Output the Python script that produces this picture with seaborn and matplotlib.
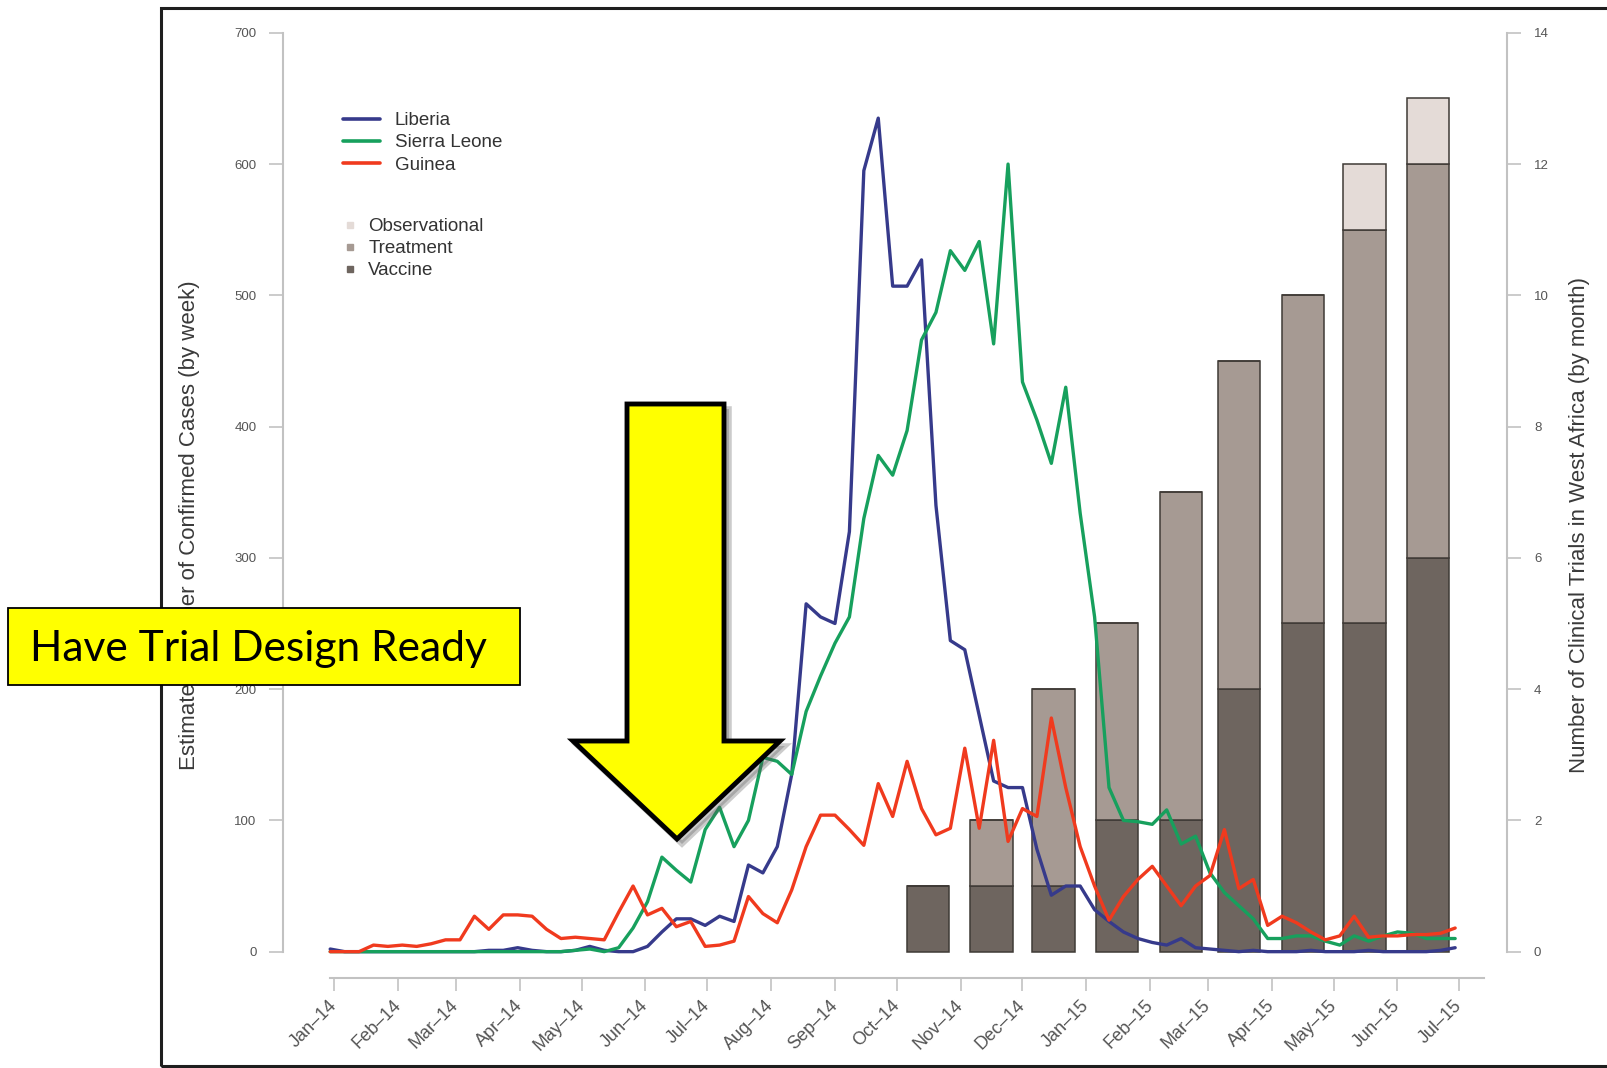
import numpy as np
import pandas as pd
import matplotlib
matplotlib.use('Agg')  # no display
import matplotlib.pyplot as plt
import matplotlib.dates as mdates
import seaborn as sns
from matplotlib.patches import Polygon, Rectangle
from matplotlib.lines import Line2D

# -------------------------------------------------------
# data
# -------------------------------------------------------

# weekly confirmed cases, first week starts 30 Dec 2013
first_week = "2013-12-30"
liberia = [2, 0, 0, 0, 0, 0, 0, 0, 0, 0,
           0, 1, 1, 3, 1, 0, 0, 1, 4, 1,
           0, 0, 4, 15, 25, 25, 20, 27, 23, 66,
           60, 80, 135, 265, 255, 250, 320, 595, 635, 507,
           507, 527, 340, 237, 230, 180, 130, 125, 125, 78,
           43, 50, 50, 32, 23, 15, 10, 7, 5, 10,
           3, 2, 1, 0, 1, 0, 0, 0, 1, 0,
           0, 0, 1, 0, 0, 0, 0, 1, 3]
sierra_leone = [0, 0, 0, 0, 0, 0, 0, 0, 0, 0,
                0, 0, 0, 0, 0, 0, 0, 1, 2, 0,
                3, 18, 38, 72, 62, 53, 93, 110, 80, 100,
                148, 145, 135, 183, 210, 235, 255, 330, 378, 363,
                397, 466, 487, 534, 519, 541, 463, 600, 434, 405,
                372, 430, 334, 255, 125, 100, 99, 97, 108, 82,
                88, 60, 45, 35, 25, 10, 10, 12, 12, 8,
                5, 12, 8, 12, 15, 14, 10, 10, 10]
guinea = [0, 0, 0, 5, 4, 5, 4, 6, 9, 9,
          27, 17, 28, 28, 27, 17, 10, 11, 10, 9,
          30, 50, 28, 33, 19, 23, 4, 5, 8, 42,
          29, 22, 47, 80, 104, 104, 93, 81, 128, 103,
          145, 109, 89, 94, 155, 94, 161, 84, 109, 103,
          178, 125, 80, 50, 24, 42, 55, 65, 50, 35,
          50, 58, 93, 48, 55, 20, 27, 22, 15, 9,
          12, 27, 11, 12, 12, 13, 13, 14, 18]

countries = ["Liberia", "Sierra Leone", "Guinea"]

# number of clinical trials per month (stacked bars)
trial_months = ["2014-10", "2014-11", "2014-12", "2015-01", "2015-02",
                "2015-03", "2015-04", "2015-05", "2015-06"]
vaccine = [1, 1, 1, 2, 2, 4, 5, 5, 6]
treatment = [0, 1, 3, 3, 5, 5, 5, 6, 6]
observational = [0, 0, 0, 0, 0, 0, 0, 1, 1]
trial_types = ["Observational", "Treatment", "Vaccine"]

# axis ranges
cases_max = 700
trials_max = 14
tick_first = "2014-01-01"
tick_last = "2015-07-01"

# -------------------------------------------------------
# style
# -------------------------------------------------------
line_colors = {"Liberia": "#363a8b", "Sierra Leone": "#17a05d", "Guinea": "#f03a1e"}
bar_colors = {"Observational": "#e4dbd7", "Treatment": "#a69a93", "Vaccine": "#6e655f"}
bar_edge = "#3f3a36"
axis_gray = "#c2c2c2"

W, H = 1608, 1068


def fx(px):
    return px / W


def fy(py):
    return 1 - py / H


sns.set_theme(style="white")
plt.rcParams["font.family"] = ["Liberation Sans", "DejaVu Sans"]

weeks = pd.date_range(first_week, periods=len(liberia), freq="7D")
df = pd.DataFrame({
    "week": np.tile(weeks.values, len(countries)),
    "cases": liberia + sierra_leone + guinea,
    "country": np.repeat(countries, len(weeks)),
})

fig = plt.figure(figsize=(W / 100, H / 100), dpi=100)
fig.patch.set_facecolor("white")

ax = fig.add_axes([fx(283), fy(978.3), fx(1507.5) - fx(283), (978.3 - 8) / H])
ax2 = ax.twinx()
ax.set_zorder(ax2.get_zorder() + 1)
ax.patch.set_visible(False)

# --- bars (right axis) ---
bar_x = pd.to_datetime([m + "-16" for m in trial_months])
bar_w = 20.5
ax2.bar(bar_x, vaccine, width=bar_w, color=bar_colors["Vaccine"],
        edgecolor=bar_edge, linewidth=1.1)
ax2.bar(bar_x, treatment, bottom=vaccine, width=bar_w, color=bar_colors["Treatment"],
        edgecolor=bar_edge, linewidth=1.1)
ax2.bar(bar_x, observational, bottom=np.add(vaccine, treatment), width=bar_w,
        color=bar_colors["Observational"], edgecolor=bar_edge, linewidth=1.1)

# --- lines (left axis) ---
sns.lineplot(data=df, x="week", y="cases", hue="country", hue_order=countries,
             palette=line_colors, linewidth=2.4, ax=ax, legend=False)

# --- scales ---
t0 = mdates.date2num(pd.Timestamp(tick_first))
ax.set_xlim(t0 - 24.9, t0 + 569.4)
ax.set_ylim(-20.3, 718.9)
ratio = cases_max / trials_max
ax2.set_ylim(-20.3 / ratio, 718.9 / ratio)

for s in ["top", "right"]:
    ax.spines[s].set_visible(False)
for s in ["top", "left", "bottom"]:
    ax2.spines[s].set_visible(False)
ax.spines["left"].set_bounds(0, cases_max)
ax.spines["bottom"].set_bounds(t0 - 2, t0 + 558)
ax2.spines["right"].set_bounds(0, trials_max)
for sp in [ax.spines["left"], ax.spines["bottom"], ax2.spines["right"]]:
    sp.set_color(axis_gray)
    sp.set_linewidth(1.5)

ax.set_yticks(range(0, cases_max + 1, 100))
ax2.set_yticks(range(0, trials_max + 1, 2))
months = pd.date_range(tick_first, tick_last, freq="MS")
ax.set_xticks(mdates.date2num(months))
ax.set_xticklabels([m.strftime("%b\u2013%y") for m in months])

ax.tick_params(axis="y", left=True, direction="out", length=10, width=1.2,
               color=axis_gray, labelsize=9.5, labelcolor="#555555", pad=9)
ax2.tick_params(axis="y", right=True, direction="out", length=10, width=1.2,
                color=axis_gray, labelsize=9.5, labelcolor="#555555", pad=9)
ax.tick_params(axis="x", bottom=True, direction="out", length=9.6, width=1.2,
               color=axis_gray, labelsize=13, labelcolor="#555555", pad=8)
for lab in ax.get_xticklabels():
    lab.set_rotation(45)
    lab.set_ha("right")
    lab.set_va("center")
    lab.set_rotation_mode("anchor")

ax.set_xlabel("")
ax.set_ylabel("")
ax2.set_ylabel("")

fig.text(fx(190), fy(525), "Estimated Number of Confirmed Cases (by week)",
         rotation=90, ha="center", va="center", fontsize=16, color="#3a3a3a")
fig.text(fx(1580), fy(525), "Number of Clinical Trials in West Africa (by month)",
         rotation=90, ha="center", va="center", fontsize=16, color="#3a3a3a")

# --- legends ---
line_handles = [Line2D([], [], color=line_colors[c], lw=2.6) for c in countries]
leg1 = ax.legend(line_handles, countries, loc="upper left",
                 bbox_to_anchor=(fx(343), fy(112)), bbox_transform=fig.transFigure,
                 frameon=False, borderpad=0, borderaxespad=0, fontsize=13.5,
                 handlelength=2.0, handletextpad=0.75, labelspacing=0.27,
                 labelcolor="#333333")
ax.add_artist(leg1)
box_handles = [Line2D([], [], ls="none", marker="s", ms=3.8,
                      mfc=bar_colors[k], mec=bar_colors[k]) for k in trial_types]
ax.legend(box_handles, trial_types, loc="upper left",
          bbox_to_anchor=(fx(343), fy(218)), bbox_transform=fig.transFigure,
          frameon=False, borderpad=0, borderaxespad=0, fontsize=13.5,
          handlelength=0.8, handletextpad=0.55, labelspacing=0.27,
          labelcolor="#333333")

# --- picture frame ---
fig.add_artist(Rectangle((fx(161), fy(1066)), (1700 - 161) / W, (1066 - 8) / H,
                         transform=fig.transFigure, fill=False,
                         edgecolor="#1e1e1e", linewidth=2.2, zorder=4))

# --- big yellow arrow ---
arrow_px = [(627, 404), (724, 404), (724, 741), (780, 741), (677, 839),
            (573, 741), (627, 741)]
shadow = Polygon([(fx(x + 5), fy(y + 5)) for x, y in arrow_px], closed=True,
                 transform=fig.transFigure, facecolor="#555555", edgecolor="#555555",
                 linewidth=4, alpha=0.3, zorder=5)
arrow = Polygon([(fx(x), fy(y)) for x, y in arrow_px], closed=True,
                transform=fig.transFigure, facecolor="#ffff00", edgecolor="black",
                linewidth=3.5, joinstyle="miter", zorder=6)
fig.add_artist(shadow)
fig.add_artist(arrow)

# --- yellow note box ---
fig.add_artist(Rectangle((fx(8), fy(685)), (519.6 - 8) / W, (685 - 608) / H,
                         transform=fig.transFigure, facecolor="#ffff00",
                         edgecolor="black", linewidth=1.3, zorder=7))
note = fig.text(fx(30.5), fy(661.5), "Have Trial Design Ready", ha="left",
                va="baseline", fontsize=30, color="black",
                family=["Lato", "DejaVu Sans"], zorder=8)
fig.canvas.draw()
w = note.get_window_extent().width
note.set_fontsize(30 * 457 / w)

fig.savefig("out.png", dpi=100)
plt.close(fig)
